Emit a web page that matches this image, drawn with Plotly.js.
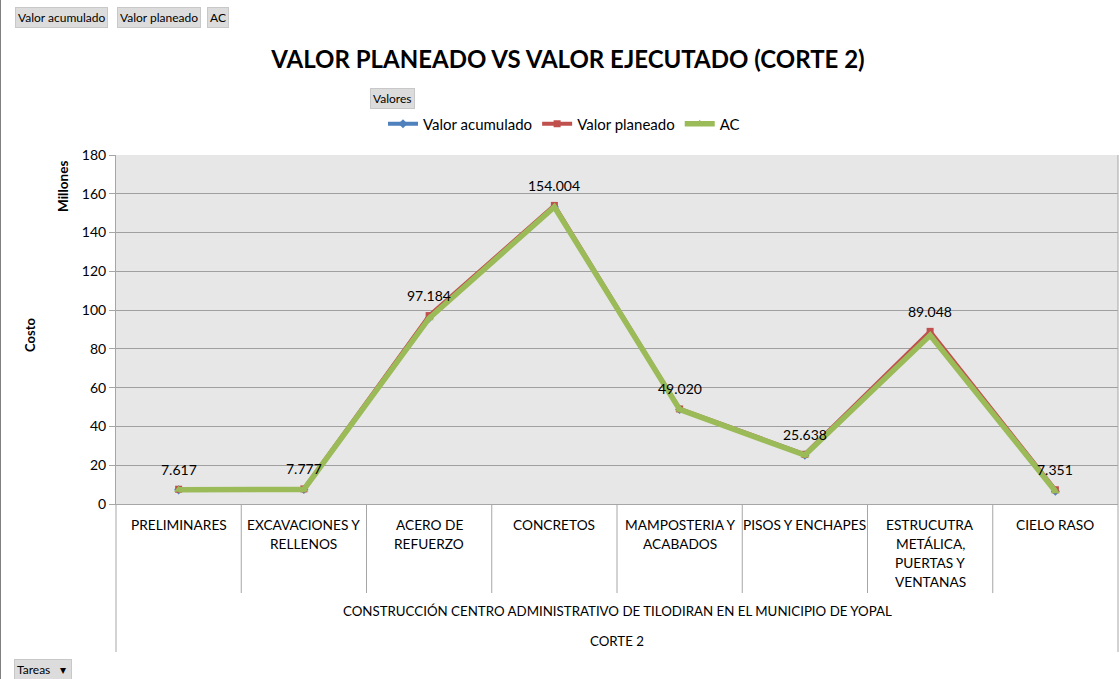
<!DOCTYPE html>
<html><head><meta charset="utf-8">
<script src="https://cdn.plot.ly/plotly-3.0.1.min.js"></script>
<style>html,body{margin:0;padding:0;background:#fff}#chart{width:1119px;height:679px}</style>
</head><body><div id="chart"></div>
<script>
// ---- data (millones) ----
const categories = ["PRELIMINARES","EXCAVACIONES Y RELLENOS","ACERO DE REFUERZO","CONCRETOS","MAMPOSTERIA Y ACABADOS","PISOS Y ENCHAPES","ESTRUCUTRA METÁLICA, PUERTAS Y VENTANAS","CIELO RASO"];
const categoryLabels = ["PRELIMINARES","EXCAVACIONES Y<br>RELLENOS","ACERO DE<br>REFUERZO","CONCRETOS","MAMPOSTERIA Y<br>ACABADOS","PISOS Y ENCHAPES","ESTRUCUTRA<br>METÁLICA,<br>PUERTAS Y<br>VENTANAS","CIELO RASO"];
const valorAcumulado = [7.3, 7.5, 95.8, 153.2, 48.8, 25.2, 87.0, 6.6];
const valorPlaneado  = [7.617, 7.777, 97.184, 154.004, 49.020, 25.638, 89.048, 7.351];
const ac             = [7.3, 7.5, 95.8, 153.2, 48.8, 25.2, 87.0, 6.6];
const groupLabel = "CONSTRUCCIÓN CENTRO ADMINISTRATIVO DE TILODIRAN EN EL MUNICIPIO DE YOPAL";
const subGroupLabel = "CORTE 2";

const W = 1119, H = 679, L = 116, R = 1, T = 155, B = 175;
const pw = W - L - R, ph = H - T - B;
const px2x = p => (p - L) / pw;
const py2y = p => (H - B - p) / ph;
const FONT = "Lato, 'Noto Sans', sans-serif";

const traces = [
  {name:"Valor acumulado", x:categories, y:valorAcumulado, type:"scatter", mode:"lines+markers",
   line:{color:"#4f81bd", width:4}, marker:{symbol:"diamond", size:7, color:"#4f81bd"}},
  {name:"Valor planeado", x:categories, y:valorPlaneado, type:"scatter", mode:"lines+markers",
   line:{color:"#c0504d", width:4}, marker:{symbol:"square", size:7, color:"#c0504d"}},
  {name:"AC", x:categories, y:ac, type:"scatter", mode:"lines+markers",
   line:{color:"#9bbb59", width:5.5}, marker:{symbol:"triangle-up", size:8, color:"#9bbb59"}}
];

const shapes = [];
for (let i = 0; i < categories.length - 1; i++) {
  shapes.push({type:"line", xref:"x", yref:"paper", x0:i+0.5, x1:i+0.5, y0:0, y1:py2y(593), line:{color:"#a6a6a6", width:1}});
}
shapes.push({type:"line", xref:"paper", yref:"paper", x0:0, x1:0, y0:0, y1:py2y(652), line:{color:"#a6a6a6", width:1}});
shapes.push({type:"line", xref:"paper", yref:"paper", x0:px2x(1118), x1:px2x(1118), y0:py2y(155), y1:py2y(652), line:{color:"#a6a6a6", width:1}});
shapes.push({type:"line", xref:"paper", yref:"paper", x0:px2x(0.5), x1:px2x(0.5), y0:py2y(0), y1:py2y(679), line:{color:"#808080", width:1}});

const annotations = [];
const fmt = v => v.toFixed(3);
valorPlaneado.forEach((v, i) => annotations.push({xref:"x", yref:"y", x:categories[i], y:v, yshift:20, xanchor:"center", yanchor:"middle",
  text:fmt(v), showarrow:false, font:{family:FONT, size:14, color:"#000"}}));
categoryLabels.forEach((t, i) => t.split("<br>").forEach((ln, k) => annotations.push({xref:"x", yref:"paper", x:categories[i], y:py2y(524 + 19*k),
  yanchor:"middle", xanchor:"center", text:ln, showarrow:false, font:{family:FONT, size:13.7, color:"#000"}})));
const txt = (t, cx, cy, extra) => Object.assign({xref:"paper", yref:"paper", x:px2x(cx), y:py2y(cy), xanchor:"center", yanchor:"middle",
  text:t, showarrow:false, font:{family:FONT, size:14, color:"#000"}}, extra || {});
annotations.push(txt(groupLabel, 617, 611, {font:{family:FONT, size:13.3, color:"#000"}}));
annotations.push(txt(subGroupLabel, 617, 641, {font:{family:FONT, size:13.3, color:"#000"}}));
annotations.push(txt("<b>Costo</b>", 30, 335, {textangle:-90, font:{family:FONT, size:13, color:"#000"}}));
annotations.push(txt("<b>Millones</b>", 63, 187, {textangle:-90, font:{family:FONT, size:13.5, color:"#000"}}));
// pivot field buttons
const btn = (t, cx, cy) => txt(t, cx, cy, {bgcolor:"#dcdcdc", bordercolor:"#c8c8c8", borderwidth:1, borderpad:2, font:{family:FONT, size:12, color:"#000"}});
annotations.push(btn("Valor acumulado", 61, 18));
annotations.push(btn("Valor planeado", 159, 18));
annotations.push(btn("AC", 218, 18));
annotations.push(btn("Valores", 392, 98));
annotations.push(btn("Tareas&nbsp;&nbsp;&nbsp;▾&nbsp;", 43, 669));

const layout = {
  width:W, height:H, margin:{l:L, r:R, t:T, b:B, pad:0},
  paper_bgcolor:"#ffffff", plot_bgcolor:"#e7e7e7",
  font:{family:FONT, size:13, color:"#000"},
  title:{text:"<b>VALOR PLANEADO VS VALOR EJECUTADO (CORTE 2)</b>", x:px2x(568)*pw/W + L/W, xanchor:"center", y:1-60/H, yanchor:"middle",
         font:{family:FONT, size:24, color:"#000"}},
  showlegend:true,
  legend:{orientation:"h", x:px2x(564), xanchor:"center", y:py2y(124), yanchor:"middle", font:{family:FONT, size:15, color:"#000"}, bgcolor:"rgba(0,0,0,0)", itemwidth:30},
  xaxis:{type:"category", range:[-0.5, 7.5], showticklabels:false, showgrid:false, showline:true, linecolor:"#a6a6a6", ticks:"", zeroline:false, fixedrange:true},
  yaxis:{range:[0,180], dtick:20, tick0:0, showgrid:true, gridcolor:"#a0a0a0", gridwidth:1, showline:true, linecolor:"#a6a6a6",
         ticks:"outside", ticklen:6, tickcolor:"#a6a6a6", tickfont:{family:FONT, size:14, color:"#000"}, zeroline:false, fixedrange:true},
  shapes:shapes, annotations:annotations
};
Plotly.newPlot("chart", traces, layout, {staticPlot:true, displayModeBar:false});
</script></body></html>
